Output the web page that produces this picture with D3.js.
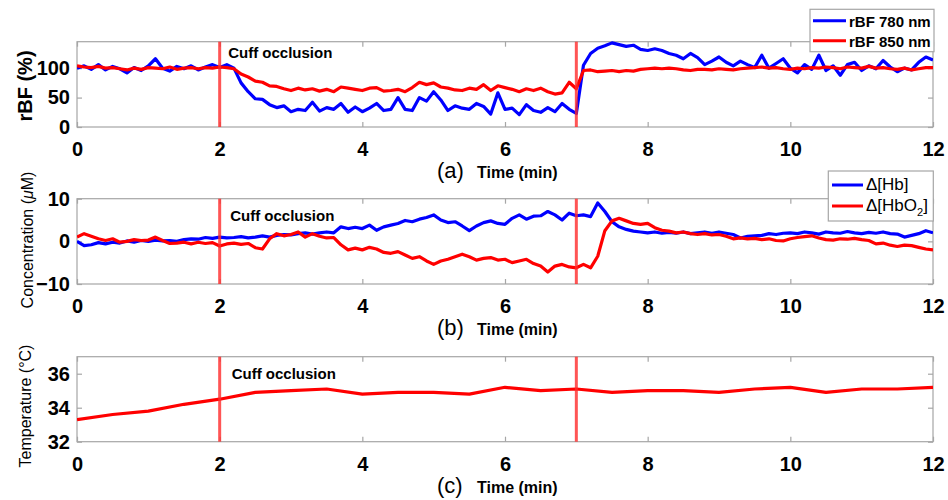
<!DOCTYPE html>
<html><head><meta charset="utf-8">
<script src="https://cdn.jsdelivr.net/npm/d3@7"></script>
<style>
body{margin:0;background:#fff}
svg{display:block}
text{font-family:"Liberation Sans",Arial,Helvetica,sans-serif;fill:#000}
</style>
</head><body>
<svg id="c" width="948" height="500"></svg>
<script>
// ---------- DATA ----------
const timeStep = 0.1; // minutes between samples of the optical series
const rbf780 = [100,104,98,106,97,103,99,92,101,96,104,116,100,95,103,99,104,97,102,106,
  101,106,100,75,60,48,47,38,33,36,26,30,28,42,27,33,30,40,25,34,
  26,32,40,28,30,50,30,28,50,44,60,46,28,36,32,30,40,35,22,58,
  30,32,21,38,28,25,33,26,40,30,23,105,125,134,138,143,140,137,139,132,
  130,133,130,125,122,116,125,118,106,112,119,110,104,112,106,101,122,100,108,116,
  100,92,106,98,122,96,104,88,106,110,96,104,99,113,102,94,100,97,110,119,114];
const rbf850 = [104,102,101,103,100,101,99,97,100,98,101,100,99,102,98,100,101,99,101,100,
  102,101,99,90,85,78,76,70,69,65,62,66,63,65,61,64,60,68,66,64,
  62,66,67,61,62,64,60,67,76,72,75,68,66,63,62,66,64,72,62,70,
  67,64,60,65,62,66,60,56,58,76,65,96,97,94,95,96,94,96,95,98,
  99,100,99,100,99,97,96,98,98,97,99,98,97,99,100,101,102,100,101,99,
  98,100,99,101,100,102,101,99,102,101,100,103,100,101,99,98,100,97,99,101,101];
const dHb = [0,-1.0,-0.8,-0.3,-0.6,-0.2,-0.4,0.1,-0.2,0.2,0.0,0.3,0.1,0.2,0.0,0.4,0.6,0.5,0.9,0.7,
  1.0,0.8,0.9,1.1,0.8,1.0,1.3,1.0,1.4,1.6,1.5,1.8,2.0,1.7,2.0,2.2,2.0,3.4,3.0,3.3,
  3.0,3.8,2.6,3.4,3.8,4.2,4.9,4.6,5.2,5.6,6.2,5.0,4.4,4.6,3.6,2.5,3.6,4.4,4.8,4.2,
  4.0,5.4,6.2,5.2,5.9,6.0,7.0,6.2,5.0,6.6,6.0,6.2,5.8,9.0,7.0,4.6,3.4,2.8,2.4,2.2,
  2.0,2.2,1.9,2.1,1.9,2.2,1.8,2.0,2.2,1.9,2.2,1.9,1.6,0.8,1.2,1.3,1.4,1.8,1.6,1.9,
  2.0,1.8,2.2,2.0,1.7,2.2,2.0,1.9,2.3,2.0,1.8,2.1,1.9,2.2,1.8,1.7,1.0,1.4,1.8,2.5,2.0];
const dHbO2 = [1.0,1.8,1.2,0.6,0.2,0.6,-0.2,0.0,0.4,0.2,0.3,1.0,0.2,-0.5,-0.4,-0.2,-0.6,-0.2,-0.5,-0.3,
  -1.1,-0.6,-0.4,-0.7,-0.5,-1.5,-1.8,0.6,1.8,1.3,1.6,2.2,1.0,1.8,1.2,0.8,0.9,-0.8,-2.0,-1.6,
  -2.0,-1.4,-1.8,-2.6,-2.8,-2.4,-3.2,-4.0,-3.6,-4.6,-5.4,-4.6,-4.2,-3.6,-3.0,-3.6,-4.4,-4.0,-3.8,-4.4,
  -4.2,-5.0,-4.6,-4.2,-5.2,-5.8,-7.2,-5.8,-5.4,-6.0,-6.2,-5.4,-6.2,-3.5,2.5,4.8,5.4,4.8,4.2,4.0,
  4.2,3.2,2.6,2.4,2.0,2.2,1.8,1.6,1.8,1.5,1.6,1.2,0.6,0.8,0.6,0.7,0.4,0.6,0.2,0.1,
  0.6,0.9,1.1,1.3,0.8,0.4,0.3,0.6,0.5,0.7,0.4,0.2,-0.6,-0.4,-0.9,-1.2,-0.9,-1.0,-1.4,-1.8,-2.0];
const tempTime = [0,0.5,1,1.5,2,2.5,3,3.5,4,4.5,5,5.5,6,6.5,7,7.5,8,8.5,9,9.5,10,10.5,11,11.5,12];
const temperature = [33.3,33.6,33.8,34.2,34.5,34.9,35.0,35.1,34.8,34.9,34.9,34.8,35.2,35.0,35.1,34.9,35.0,35.0,34.9,35.1,35.2,34.9,35.1,35.1,35.2];
const xTicks = [0,2,4,6,8,10,12];
const rbfTicks = [0,50,100];
const concTicks = [-10,0,10];
const tempTicks = [32,34,36];
const occlusionTimes = [2,7];

// ---------- DRAW ----------
const svg = d3.select('#c');
const X0 = 77, X1 = 933;
const x = d3.scaleLinear().domain([0,12]).range([X0,X1]);
const BOX = '#a6a6a6';

function panel(cfg){
  const y = d3.scaleLinear().domain(cfg.domain).range([cfg.bottom, cfg.top]);
  const g = svg.append('g');
  g.append('rect').attr('x',X0).attr('y',cfg.top).attr('width',X1-X0).attr('height',cfg.bottom-cfg.top)
    .attr('fill','#fff').attr('stroke',BOX).attr('stroke-width',1.2);
  const ax = g.append('g').attr('transform',`translate(0,${cfg.bottom})`)
    .call(d3.axisBottom(x).tickValues(xTicks).tickSize(-5).tickPadding(15).tickFormat(d3.format('d')));
  const axT = g.append('g').attr('transform',`translate(0,${cfg.top})`)
    .call(d3.axisTop(x).tickValues(xTicks).tickSize(-5).tickFormat(''));
  const ay = g.append('g').attr('transform',`translate(${X0},0)`)
    .call(d3.axisLeft(y).tickValues(cfg.ticks).tickSize(-5).tickPadding(7).tickFormat(d3.format('d')));
  const ayR = g.append('g').attr('transform',`translate(${X1},0)`)
    .call(d3.axisRight(y).tickValues(cfg.ticks).tickSize(-5).tickFormat(''));
  [ax,axT,ay,ayR].forEach(a=>{
    a.select('.domain').remove();
    a.selectAll('line').attr('stroke',BOX).attr('stroke-width',1.2);
    a.selectAll('text').attr('font-size',20).attr('font-weight','bold')
      .attr('font-family','"Liberation Sans",Arial,sans-serif').attr('fill','#000');
  });
  const clip = 'clip'+cfg.id;
  svg.append('clipPath').attr('id',clip).append('rect')
    .attr('x',X0).attr('y',cfg.top-2).attr('width',X1-X0).attr('height',cfg.bottom-cfg.top+4);
  cfg.series.forEach(s=>{
    const line = d3.line().x((d,i)=>x(s.t ? s.t[i] : i*timeStep)).y(d=>y(d));
    g.append('path').datum(s.values).attr('d',line).attr('fill','none')
      .attr('stroke',s.color).attr('stroke-width',3.2).attr('stroke-linejoin','round')
      .attr('clip-path',`url(#${clip})`);
  });
  occlusionTimes.forEach(t=>{
    g.append('line').attr('x1',x(t)).attr('x2',x(t)).attr('y1',cfg.top).attr('y2',cfg.bottom)
      .attr('stroke','#ff2a2a').attr('stroke-opacity',0.8).attr('stroke-width',3);
  });
  g.append('text').attr('x',x(2)+cfg.cuffDx).attr('y',cfg.cuffY).attr('font-size',15).attr('font-weight','bold')
    .text('Cuff occlusion');
  const tt = g.append('text').attr('y',cfg.bottom+51);
  tt.append('tspan').attr('x',437).attr('font-size',22).text(cfg.letter);
  tt.append('tspan').attr('x',477).attr('font-size',16).attr('font-weight','bold').text('Time (min)');
  return {g,y};
}

panel({id:'a',top:41.7,bottom:127,domain:[0,145],ticks:rbfTicks,letter:'(a)',cuffDx:8.5,cuffY:57.5,
  series:[{values:rbf780,color:'#0000ff'},{values:rbf850,color:'#ff0000'}]});
panel({id:'b',top:198.7,bottom:284,domain:[-10,10],ticks:concTicks,letter:'(b)',cuffDx:10.5,cuffY:220.5,
  series:[{values:dHb,color:'#0000ff'},{values:dHbO2,color:'#ff0000'}]});
panel({id:'c',top:356.7,bottom:441.7,domain:[32,37],ticks:tempTicks,letter:'(c)',cuffDx:12,cuffY:379,
  series:[{values:temperature,t:tempTime,color:'#ff0000'}]});

svg.append('text').attr('transform','translate(31.5,86) rotate(-90)').attr('text-anchor','middle')
  .attr('font-size',20).attr('font-weight','bold').text('rBF (%)');
const ct = svg.append('text').attr('transform','translate(33,240) rotate(-90)').attr('text-anchor','middle')
  .attr('font-size',16);
ct.append('tspan').text('Concentration (');
ct.append('tspan').attr('font-style','italic').text('μ');
ct.append('tspan').text('M)');
svg.append('text').attr('transform','translate(31,406) rotate(-90)').attr('text-anchor','middle')
  .attr('font-size',16).text('Temperature (°C)');

function legend(box, rows, font){
  const g = svg.append('g');
  g.append('rect').attr('x',box[0]).attr('y',box[1]).attr('width',box[2]).attr('height',box[3])
    .attr('fill','#fff').attr('stroke',BOX).attr('stroke-width',1.2);
  rows.forEach(r=>{
    g.append('line').attr('x1',r.lx[0]).attr('x2',r.lx[1]).attr('y1',r.ly).attr('y2',r.ly)
      .attr('stroke',r.color).attr('stroke-width',3);
    const t = g.append('text').attr('x',r.tx).attr('y',r.ty).attr('font-size',font.size).attr('font-weight',font.weight);
    r.parts.forEach(p=>{
      const sp = t.append('tspan').text(p.text);
      if(p.sub){ sp.attr('font-size',font.size*0.65).attr('dy',5); }
      if(p.after){ sp.attr('dy',-5); }
    });
  });
}
legend([810,9.3,124,42.4],[
  {lx:[813,846],ly:20.7,color:'#0000ff',tx:849,ty:26.5,parts:[{text:'rBF 780 nm'}]},
  {lx:[813,846],ly:40.7,color:'#ff0000',tx:849,ty:46.5,parts:[{text:'rBF 850 nm'}]}
],{size:15,weight:'bold'});
legend([828.3,171,105,50],[
  {lx:[832,863],ly:185,color:'#0000ff',tx:866,ty:190,parts:[{text:'Δ[Hb]'}]},
  {lx:[832,863],ly:206,color:'#ff0000',tx:866,ty:211,parts:[{text:'Δ[HbO'},{text:'2',sub:true},{text:']',after:true}]}
],{size:17,weight:'normal'});
</script>
</body></html>
